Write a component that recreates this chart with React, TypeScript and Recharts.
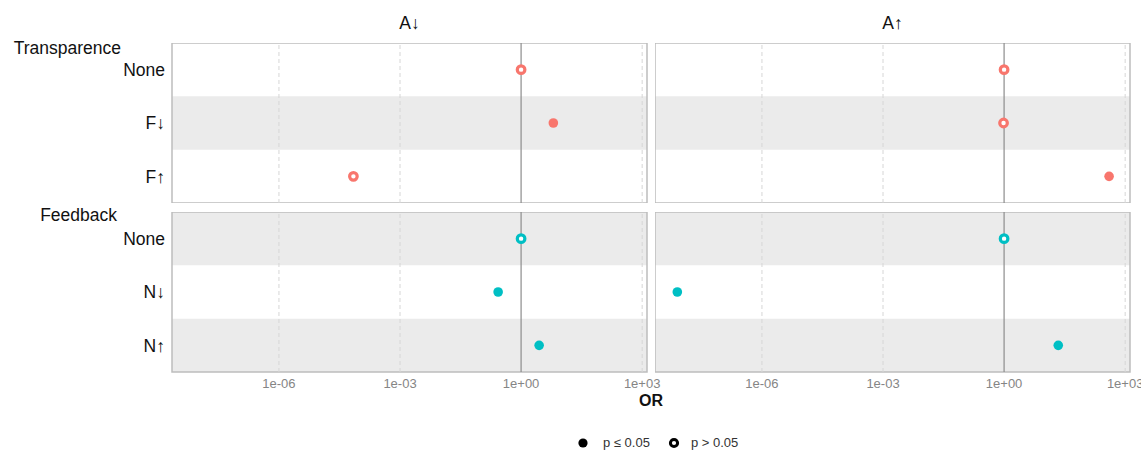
import { ScatterChart, Scatter, XAxis, YAxis, ReferenceArea, ReferenceLine } from "recharts";

const transparenceRows = ["None", "F↓", "F↑"];
const feedbackRows = ["None", "N↓", "N↑"];
const columnLabels = ["A↓", "A↑"];
const groupLabels = ["Transparence", "Feedback"];

const xTicks = [1e-6, 1e-3, 1, 1e3];
const xTickLabels = ["1e-06", "1e-03", "1e+00", "1e+03"];
const xDomain: [number, number] = [10 ** -8.65, 10 ** 3.12];

// odds ratios, one value per row
const aDownTransparenceOR = [1, 6.3, 7e-5];
const aDownTransparenceSig = [false, true, false];
const aDownFeedbackOR = [1, 0.27, 2.8];
const aDownFeedbackSig = [false, true, true];
const aUpTransparenceOR = [1, 0.97, 400];
const aUpTransparenceSig = [false, false, true];
const aUpFeedbackOR = [1, 8e-9, 22];
const aUpFeedbackSig = [false, true, true];

const RED = "#F8766D";
const TEAL = "#00BFC4";
const FONT = '"Liberation Sans", Arial, sans-serif';

type PanelProps = {
  rows: string[];
  values: number[];
  sig: boolean[];
  color: string;
  grayRows: number[];
  showY: boolean;
  showX: boolean;
  width: number;
  height: number;
  rightPad?: number;
};

function Panel({ rows, values, sig, color, grayRows, showY, showX, width, height, rightPad = 0 }: PanelProps) {
  const filled = values.map((v, i) => ({ x: v, y: i + 1 })).filter((_, i) => sig[i]);
  const hollow = values.map((v, i) => ({ x: v, y: i + 1 })).filter((_, i) => !sig[i]);

  return (
    <ScatterChart width={width} height={height} margin={{ top: 0, right: rightPad, bottom: 0, left: 0 }}>
      <XAxis
        type="number"
        dataKey="x"
        scale="log"
        domain={xDomain}
        allowDataOverflow
        ticks={xTicks}
        tickFormatter={(v: number) => xTickLabels[xTicks.indexOf(v)] ?? ""}
        hide={!showX}
        height={showX ? 25 : 0}
        axisLine={false}
        tickLine={false}
        tickSize={4}
        tickMargin={3}
        interval={0}
        tick={{ fontSize: 13, fill: "#858585", fontFamily: FONT }}
      />
      <YAxis
        type="number"
        dataKey="y"
        domain={[0.5, 3.5]}
        reversed
        ticks={[1, 2, 3]}
        tickFormatter={(v: number) => rows[v - 1]}
        hide={!showY}
        width={showY ? 172 : 0}
        axisLine={false}
        tickLine={false}
        tickSize={0}
        tickMargin={7}
        interval={0}
        tick={{ fontSize: 17.5, fill: "#111", fontFamily: FONT }}
      />
      {grayRows.map((r) => (
        <ReferenceArea
          key={"band" + r}
          x1={xDomain[0]}
          x2={xDomain[1]}
          y1={r + 0.5}
          y2={r + 1.5}
          fill="#ebebeb"
          fillOpacity={1}
          stroke="none"
        />
      ))}
      {xTicks
        .filter((t) => t !== 1)
        .map((t) => (
          <ReferenceLine key={"g" + t} x={t} stroke="#d6d6d6" strokeDasharray="4 3" strokeWidth={1} />
        ))}
      <ReferenceLine x={1} stroke="#8c8c8c" strokeWidth={1.2} />
      <ReferenceArea
        x1={xDomain[0]}
        x2={xDomain[1]}
        y1={0.5}
        y2={3.5}
        fill="none"
        fillOpacity={0}
        stroke="#bdbdbd"
        strokeWidth={1.5}
      />
      <Scatter
        data={filled}
        isAnimationActive={false}
        shape={(p: any) => <circle cx={p.cx} cy={p.cy} r={4.8} fill={color} />}
      />
      <Scatter
        data={hollow}
        isAnimationActive={false}
        shape={(p: any) => <circle cx={p.cx} cy={p.cy} r={3.8} fill="#ffffff" stroke={color} strokeWidth={3.2} />}
      />
    </ScatterChart>
  );
}

const textStyle = { position: "absolute" as const, fontFamily: FONT, color: "#111", whiteSpace: "nowrap" as const };

export default function App() {
  return (
    <div style={{ position: "absolute", left: 0, top: 0, width: 1141, height: 450, background: "#fff", overflow: "hidden" }}>
      <div style={{ ...textStyle, left: 172, width: 475, top: 13, fontSize: 17.5, textAlign: "center" }}>{columnLabels[0]}</div>
      <div style={{ ...textStyle, left: 655, width: 475, top: 13, fontSize: 17.5, textAlign: "center" }}>{columnLabels[1]}</div>
      <div style={{ ...textStyle, right: 1141 - 121, top: 38, fontSize: 17.5 }}>{groupLabels[0]}</div>
      <div style={{ ...textStyle, right: 1141 - 117, top: 205, fontSize: 17.5 }}>{groupLabels[1]}</div>

      <div style={{ position: "absolute", left: 0, top: 43 }}>
        <Panel rows={transparenceRows} values={aDownTransparenceOR} sig={aDownTransparenceSig} color={RED}
          grayRows={[1]} showY showX={false} width={667} height={160} rightPad={20} />
      </div>
      <div style={{ position: "absolute", left: 655, top: 43 }}>
        <Panel rows={transparenceRows} values={aUpTransparenceOR} sig={aUpTransparenceSig} color={RED}
          grayRows={[1]} showY={false} showX={false} width={486} height={160} rightPad={11} />
      </div>
      <div style={{ position: "absolute", left: 0, top: 212 }}>
        <Panel rows={feedbackRows} values={aDownFeedbackOR} sig={aDownFeedbackSig} color={TEAL}
          grayRows={[0, 2]} showY showX width={667} height={185} rightPad={20} />
      </div>
      <div style={{ position: "absolute", left: 655, top: 212 }}>
        <Panel rows={feedbackRows} values={aUpFeedbackOR} sig={aUpFeedbackSig} color={TEAL}
          grayRows={[0, 2]} showY={false} showX width={486} height={185} rightPad={11} />
      </div>

      <div style={{ ...textStyle, left: 0, width: 1302, top: 392, fontSize: 16, fontWeight: "bold", textAlign: "center" }}>OR</div>

      <div style={{ position: "absolute", left: 576, top: 435, display: "flex", alignItems: "center", fontFamily: FONT, fontSize: 13, color: "#333" }}>
        <svg width={14} height={14}><circle cx={7} cy={7} r={4.6} fill="#000" /></svg>
        <span style={{ marginLeft: 13 }}>p ≤ 0.05</span>
        <svg width={14} height={14} style={{ marginLeft: 17 }}><circle cx={7} cy={7} r={3.6} fill="#fff" stroke="#000" strokeWidth={3} /></svg>
        <span style={{ marginLeft: 10 }}>p &gt; 0.05</span>
      </div>
    </div>
  );
}
